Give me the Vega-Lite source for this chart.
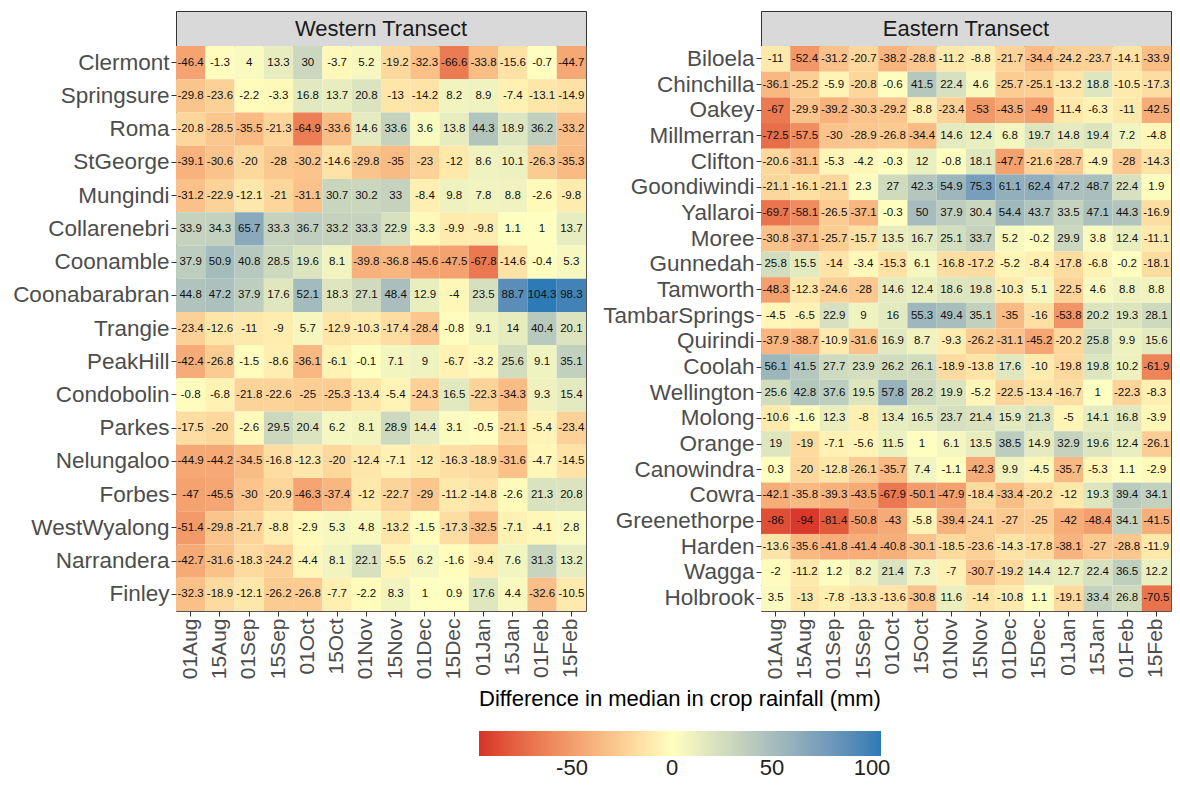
{
  "$schema": "https://vega.github.io/schema/vega-lite/v6.json",
  "background": "white",
  "padding": {"left": 12, "top": 10, "right": 5, "bottom": 0},
  "config": {
    "font": "Liberation Sans",
    "locale": {"number": {"decimal": ".", "thousands": ",", "grouping": [3], "currency": ["$", ""], "minus": "-"}},
    "view": {"stroke": "#555555", "strokeWidth": 1},
    "axis": {"labelFont": "Liberation Sans", "labelColor": "#4d4d4d", "tickColor": "#333333", "tickSize": 5, "domain": false, "grid": false, "title": null, "labelPadding": 2},
    "axisX": {"labelFontSize": 21, "labelAngle": 270},
    "axisY": {"labelFontSize": 22.5},
    "legend": {"gradientLength": 402, "gradientThickness": 25, "direction": "horizontal", "titleFontSize": 22, "titleFontWeight": "normal", "titleColor": "#000000", "titleFont": "Liberation Sans", "labelFont": "Liberation Sans", "labelFontSize": 22, "labelColor": "#222222", "titlePadding": 20, "labelOffset": 13, "titleLimit": 600}
  },
  "datasets": {
    "west": [
      {"s":"Clermont","d":"01Aug","v":-46.4},{"s":"Clermont","d":"15Aug","v":-1.3},{"s":"Clermont","d":"01Sep","v":4},{"s":"Clermont","d":"15Sep","v":13.3},{"s":"Clermont","d":"01Oct","v":30},{"s":"Clermont","d":"15Oct","v":-3.7},{"s":"Clermont","d":"01Nov","v":5.2},{"s":"Clermont","d":"15Nov","v":-19.2},{"s":"Clermont","d":"01Dec","v":-32.3},{"s":"Clermont","d":"15Dec","v":-66.6},{"s":"Clermont","d":"01Jan","v":-33.8},{"s":"Clermont","d":"15Jan","v":-15.6},{"s":"Clermont","d":"01Feb","v":-0.7},{"s":"Clermont","d":"15Feb","v":-44.7},
      {"s":"Springsure","d":"01Aug","v":-29.8},{"s":"Springsure","d":"15Aug","v":-23.6},{"s":"Springsure","d":"01Sep","v":-2.2},{"s":"Springsure","d":"15Sep","v":-3.3},{"s":"Springsure","d":"01Oct","v":16.8},{"s":"Springsure","d":"15Oct","v":13.7},{"s":"Springsure","d":"01Nov","v":20.8},{"s":"Springsure","d":"15Nov","v":-13},{"s":"Springsure","d":"01Dec","v":-14.2},{"s":"Springsure","d":"15Dec","v":8.2},{"s":"Springsure","d":"01Jan","v":8.9},{"s":"Springsure","d":"15Jan","v":-7.4},{"s":"Springsure","d":"01Feb","v":-13.1},{"s":"Springsure","d":"15Feb","v":-14.9},
      {"s":"Roma","d":"01Aug","v":-20.8},{"s":"Roma","d":"15Aug","v":-28.5},{"s":"Roma","d":"01Sep","v":-35.5},{"s":"Roma","d":"15Sep","v":-21.3},{"s":"Roma","d":"01Oct","v":-64.9},{"s":"Roma","d":"15Oct","v":-33.6},{"s":"Roma","d":"01Nov","v":14.6},{"s":"Roma","d":"15Nov","v":33.6},{"s":"Roma","d":"01Dec","v":3.6},{"s":"Roma","d":"15Dec","v":13.8},{"s":"Roma","d":"01Jan","v":44.3},{"s":"Roma","d":"15Jan","v":18.9},{"s":"Roma","d":"01Feb","v":36.2},{"s":"Roma","d":"15Feb","v":-33.2},
      {"s":"StGeorge","d":"01Aug","v":-39.1},{"s":"StGeorge","d":"15Aug","v":-30.6},{"s":"StGeorge","d":"01Sep","v":-20},{"s":"StGeorge","d":"15Sep","v":-28},{"s":"StGeorge","d":"01Oct","v":-30.2},{"s":"StGeorge","d":"15Oct","v":-14.6},{"s":"StGeorge","d":"01Nov","v":-29.8},{"s":"StGeorge","d":"15Nov","v":-35},{"s":"StGeorge","d":"01Dec","v":-23},{"s":"StGeorge","d":"15Dec","v":-12},{"s":"StGeorge","d":"01Jan","v":8.6},{"s":"StGeorge","d":"15Jan","v":10.1},{"s":"StGeorge","d":"01Feb","v":-26.3},{"s":"StGeorge","d":"15Feb","v":-35.3},
      {"s":"Mungindi","d":"01Aug","v":-31.2},{"s":"Mungindi","d":"15Aug","v":-22.9},{"s":"Mungindi","d":"01Sep","v":-12.1},{"s":"Mungindi","d":"15Sep","v":-21},{"s":"Mungindi","d":"01Oct","v":-31.1},{"s":"Mungindi","d":"15Oct","v":30.7},{"s":"Mungindi","d":"01Nov","v":30.2},{"s":"Mungindi","d":"15Nov","v":33},{"s":"Mungindi","d":"01Dec","v":-8.4},{"s":"Mungindi","d":"15Dec","v":9.8},{"s":"Mungindi","d":"01Jan","v":7.8},{"s":"Mungindi","d":"15Jan","v":8.8},{"s":"Mungindi","d":"01Feb","v":-2.6},{"s":"Mungindi","d":"15Feb","v":-9.8},
      {"s":"Collarenebri","d":"01Aug","v":33.9},{"s":"Collarenebri","d":"15Aug","v":34.3},{"s":"Collarenebri","d":"01Sep","v":65.7},{"s":"Collarenebri","d":"15Sep","v":33.3},{"s":"Collarenebri","d":"01Oct","v":36.7},{"s":"Collarenebri","d":"15Oct","v":33.2},{"s":"Collarenebri","d":"01Nov","v":33.3},{"s":"Collarenebri","d":"15Nov","v":22.9},{"s":"Collarenebri","d":"01Dec","v":-3.3},{"s":"Collarenebri","d":"15Dec","v":-9.9},{"s":"Collarenebri","d":"01Jan","v":-9.8},{"s":"Collarenebri","d":"15Jan","v":1.1},{"s":"Collarenebri","d":"01Feb","v":1},{"s":"Collarenebri","d":"15Feb","v":13.7},
      {"s":"Coonamble","d":"01Aug","v":37.9},{"s":"Coonamble","d":"15Aug","v":50.9},{"s":"Coonamble","d":"01Sep","v":40.8},{"s":"Coonamble","d":"15Sep","v":28.5},{"s":"Coonamble","d":"01Oct","v":19.6},{"s":"Coonamble","d":"15Oct","v":8.1},{"s":"Coonamble","d":"01Nov","v":-39.8},{"s":"Coonamble","d":"15Nov","v":-36.8},{"s":"Coonamble","d":"01Dec","v":-45.6},{"s":"Coonamble","d":"15Dec","v":-47.5},{"s":"Coonamble","d":"01Jan","v":-67.8},{"s":"Coonamble","d":"15Jan","v":-14.6},{"s":"Coonamble","d":"01Feb","v":-0.4},{"s":"Coonamble","d":"15Feb","v":5.3},
      {"s":"Coonabarabran","d":"01Aug","v":44.8},{"s":"Coonabarabran","d":"15Aug","v":47.2},{"s":"Coonabarabran","d":"01Sep","v":37.9},{"s":"Coonabarabran","d":"15Sep","v":17.6},{"s":"Coonabarabran","d":"01Oct","v":52.1},{"s":"Coonabarabran","d":"15Oct","v":18.3},{"s":"Coonabarabran","d":"01Nov","v":27.1},{"s":"Coonabarabran","d":"15Nov","v":48.4},{"s":"Coonabarabran","d":"01Dec","v":12.9},{"s":"Coonabarabran","d":"15Dec","v":-4},{"s":"Coonabarabran","d":"01Jan","v":23.5},{"s":"Coonabarabran","d":"15Jan","v":88.7},{"s":"Coonabarabran","d":"01Feb","v":104.3},{"s":"Coonabarabran","d":"15Feb","v":98.3},
      {"s":"Trangie","d":"01Aug","v":-23.4},{"s":"Trangie","d":"15Aug","v":-12.6},{"s":"Trangie","d":"01Sep","v":-11},{"s":"Trangie","d":"15Sep","v":-9},{"s":"Trangie","d":"01Oct","v":5.7},{"s":"Trangie","d":"15Oct","v":-12.9},{"s":"Trangie","d":"01Nov","v":-10.3},{"s":"Trangie","d":"15Nov","v":-17.4},{"s":"Trangie","d":"01Dec","v":-28.4},{"s":"Trangie","d":"15Dec","v":-0.8},{"s":"Trangie","d":"01Jan","v":9.1},{"s":"Trangie","d":"15Jan","v":14},{"s":"Trangie","d":"01Feb","v":40.4},{"s":"Trangie","d":"15Feb","v":20.1},
      {"s":"PeakHill","d":"01Aug","v":-42.4},{"s":"PeakHill","d":"15Aug","v":-26.8},{"s":"PeakHill","d":"01Sep","v":-1.5},{"s":"PeakHill","d":"15Sep","v":-8.6},{"s":"PeakHill","d":"01Oct","v":-36.1},{"s":"PeakHill","d":"15Oct","v":-6.1},{"s":"PeakHill","d":"01Nov","v":-0.1},{"s":"PeakHill","d":"15Nov","v":7.1},{"s":"PeakHill","d":"01Dec","v":9},{"s":"PeakHill","d":"15Dec","v":-6.7},{"s":"PeakHill","d":"01Jan","v":-3.2},{"s":"PeakHill","d":"15Jan","v":25.6},{"s":"PeakHill","d":"01Feb","v":9.1},{"s":"PeakHill","d":"15Feb","v":35.1},
      {"s":"Condobolin","d":"01Aug","v":-0.8},{"s":"Condobolin","d":"15Aug","v":-6.8},{"s":"Condobolin","d":"01Sep","v":-21.8},{"s":"Condobolin","d":"15Sep","v":-22.6},{"s":"Condobolin","d":"01Oct","v":-25},{"s":"Condobolin","d":"15Oct","v":-25.3},{"s":"Condobolin","d":"01Nov","v":-13.4},{"s":"Condobolin","d":"15Nov","v":-5.4},{"s":"Condobolin","d":"01Dec","v":-24.3},{"s":"Condobolin","d":"15Dec","v":16.5},{"s":"Condobolin","d":"01Jan","v":-22.3},{"s":"Condobolin","d":"15Jan","v":-34.3},{"s":"Condobolin","d":"01Feb","v":9.3},{"s":"Condobolin","d":"15Feb","v":15.4},
      {"s":"Parkes","d":"01Aug","v":-17.5},{"s":"Parkes","d":"15Aug","v":-20},{"s":"Parkes","d":"01Sep","v":-2.6},{"s":"Parkes","d":"15Sep","v":29.5},{"s":"Parkes","d":"01Oct","v":20.4},{"s":"Parkes","d":"15Oct","v":6.2},{"s":"Parkes","d":"01Nov","v":8.1},{"s":"Parkes","d":"15Nov","v":28.9},{"s":"Parkes","d":"01Dec","v":14.4},{"s":"Parkes","d":"15Dec","v":3.1},{"s":"Parkes","d":"01Jan","v":-0.5},{"s":"Parkes","d":"15Jan","v":-21.1},{"s":"Parkes","d":"01Feb","v":-5.4},{"s":"Parkes","d":"15Feb","v":-23.4},
      {"s":"Nelungaloo","d":"01Aug","v":-44.9},{"s":"Nelungaloo","d":"15Aug","v":-44.2},{"s":"Nelungaloo","d":"01Sep","v":-34.5},{"s":"Nelungaloo","d":"15Sep","v":-16.8},{"s":"Nelungaloo","d":"01Oct","v":-12.3},{"s":"Nelungaloo","d":"15Oct","v":-20},{"s":"Nelungaloo","d":"01Nov","v":-12.4},{"s":"Nelungaloo","d":"15Nov","v":-7.1},{"s":"Nelungaloo","d":"01Dec","v":-12},{"s":"Nelungaloo","d":"15Dec","v":-16.3},{"s":"Nelungaloo","d":"01Jan","v":-18.9},{"s":"Nelungaloo","d":"15Jan","v":-31.6},{"s":"Nelungaloo","d":"01Feb","v":-4.7},{"s":"Nelungaloo","d":"15Feb","v":-14.5},
      {"s":"Forbes","d":"01Aug","v":-47},{"s":"Forbes","d":"15Aug","v":-45.5},{"s":"Forbes","d":"01Sep","v":-30},{"s":"Forbes","d":"15Sep","v":-20.9},{"s":"Forbes","d":"01Oct","v":-46.3},{"s":"Forbes","d":"15Oct","v":-37.4},{"s":"Forbes","d":"01Nov","v":-12},{"s":"Forbes","d":"15Nov","v":-22.7},{"s":"Forbes","d":"01Dec","v":-29},{"s":"Forbes","d":"15Dec","v":-11.2},{"s":"Forbes","d":"01Jan","v":-14.8},{"s":"Forbes","d":"15Jan","v":-2.6},{"s":"Forbes","d":"01Feb","v":21.3},{"s":"Forbes","d":"15Feb","v":20.8},
      {"s":"WestWyalong","d":"01Aug","v":-51.4},{"s":"WestWyalong","d":"15Aug","v":-29.8},{"s":"WestWyalong","d":"01Sep","v":-21.7},{"s":"WestWyalong","d":"15Sep","v":-8.8},{"s":"WestWyalong","d":"01Oct","v":-2.9},{"s":"WestWyalong","d":"15Oct","v":5.3},{"s":"WestWyalong","d":"01Nov","v":4.8},{"s":"WestWyalong","d":"15Nov","v":-13.2},{"s":"WestWyalong","d":"01Dec","v":-1.5},{"s":"WestWyalong","d":"15Dec","v":-17.3},{"s":"WestWyalong","d":"01Jan","v":-32.5},{"s":"WestWyalong","d":"15Jan","v":-7.1},{"s":"WestWyalong","d":"01Feb","v":-4.1},{"s":"WestWyalong","d":"15Feb","v":2.8},
      {"s":"Narrandera","d":"01Aug","v":-42.7},{"s":"Narrandera","d":"15Aug","v":-31.6},{"s":"Narrandera","d":"01Sep","v":-18.3},{"s":"Narrandera","d":"15Sep","v":-24.2},{"s":"Narrandera","d":"01Oct","v":-4.4},{"s":"Narrandera","d":"15Oct","v":8.1},{"s":"Narrandera","d":"01Nov","v":22.1},{"s":"Narrandera","d":"15Nov","v":-5.5},{"s":"Narrandera","d":"01Dec","v":6.2},{"s":"Narrandera","d":"15Dec","v":-1.6},{"s":"Narrandera","d":"01Jan","v":-9.4},{"s":"Narrandera","d":"15Jan","v":7.6},{"s":"Narrandera","d":"01Feb","v":31.3},{"s":"Narrandera","d":"15Feb","v":13.2},
      {"s":"Finley","d":"01Aug","v":-32.3},{"s":"Finley","d":"15Aug","v":-18.9},{"s":"Finley","d":"01Sep","v":-12.1},{"s":"Finley","d":"15Sep","v":-26.2},{"s":"Finley","d":"01Oct","v":-26.8},{"s":"Finley","d":"15Oct","v":-7.7},{"s":"Finley","d":"01Nov","v":-2.2},{"s":"Finley","d":"15Nov","v":8.3},{"s":"Finley","d":"01Dec","v":1},{"s":"Finley","d":"15Dec","v":0.9},{"s":"Finley","d":"01Jan","v":17.6},{"s":"Finley","d":"15Jan","v":4.4},{"s":"Finley","d":"01Feb","v":-32.6},{"s":"Finley","d":"15Feb","v":-10.5}
    ],
    "east": [
      {"s":"Biloela","d":"01Aug","v":-11},{"s":"Biloela","d":"15Aug","v":-52.4},{"s":"Biloela","d":"01Sep","v":-31.2},{"s":"Biloela","d":"15Sep","v":-20.7},{"s":"Biloela","d":"01Oct","v":-38.2},{"s":"Biloela","d":"15Oct","v":-28.8},{"s":"Biloela","d":"01Nov","v":-11.2},{"s":"Biloela","d":"15Nov","v":-8.8},{"s":"Biloela","d":"01Dec","v":-21.7},{"s":"Biloela","d":"15Dec","v":-34.4},{"s":"Biloela","d":"01Jan","v":-24.2},{"s":"Biloela","d":"15Jan","v":-23.7},{"s":"Biloela","d":"01Feb","v":-14.1},{"s":"Biloela","d":"15Feb","v":-33.9},
      {"s":"Chinchilla","d":"01Aug","v":-36.1},{"s":"Chinchilla","d":"15Aug","v":-25.2},{"s":"Chinchilla","d":"01Sep","v":-5.9},{"s":"Chinchilla","d":"15Sep","v":-20.8},{"s":"Chinchilla","d":"01Oct","v":-0.6},{"s":"Chinchilla","d":"15Oct","v":41.5},{"s":"Chinchilla","d":"01Nov","v":22.4},{"s":"Chinchilla","d":"15Nov","v":4.6},{"s":"Chinchilla","d":"01Dec","v":-25.7},{"s":"Chinchilla","d":"15Dec","v":-25.1},{"s":"Chinchilla","d":"01Jan","v":-13.2},{"s":"Chinchilla","d":"15Jan","v":18.8},{"s":"Chinchilla","d":"01Feb","v":-10.5},{"s":"Chinchilla","d":"15Feb","v":-17.3},
      {"s":"Oakey","d":"01Aug","v":-67},{"s":"Oakey","d":"15Aug","v":-29.9},{"s":"Oakey","d":"01Sep","v":-39.2},{"s":"Oakey","d":"15Sep","v":-30.3},{"s":"Oakey","d":"01Oct","v":-29.2},{"s":"Oakey","d":"15Oct","v":-8.8},{"s":"Oakey","d":"01Nov","v":-23.4},{"s":"Oakey","d":"15Nov","v":-53},{"s":"Oakey","d":"01Dec","v":-43.5},{"s":"Oakey","d":"15Dec","v":-49},{"s":"Oakey","d":"01Jan","v":-11.4},{"s":"Oakey","d":"15Jan","v":-6.3},{"s":"Oakey","d":"01Feb","v":-11},{"s":"Oakey","d":"15Feb","v":-42.5},
      {"s":"Millmerran","d":"01Aug","v":-72.5},{"s":"Millmerran","d":"15Aug","v":-57.5},{"s":"Millmerran","d":"01Sep","v":-30},{"s":"Millmerran","d":"15Sep","v":-28.9},{"s":"Millmerran","d":"01Oct","v":-26.8},{"s":"Millmerran","d":"15Oct","v":-34.4},{"s":"Millmerran","d":"01Nov","v":14.6},{"s":"Millmerran","d":"15Nov","v":12.4},{"s":"Millmerran","d":"01Dec","v":6.8},{"s":"Millmerran","d":"15Dec","v":19.7},{"s":"Millmerran","d":"01Jan","v":14.8},{"s":"Millmerran","d":"15Jan","v":19.4},{"s":"Millmerran","d":"01Feb","v":7.2},{"s":"Millmerran","d":"15Feb","v":-4.8},
      {"s":"Clifton","d":"01Aug","v":-20.6},{"s":"Clifton","d":"15Aug","v":-31.1},{"s":"Clifton","d":"01Sep","v":-5.3},{"s":"Clifton","d":"15Sep","v":-4.2},{"s":"Clifton","d":"01Oct","v":-0.3},{"s":"Clifton","d":"15Oct","v":12},{"s":"Clifton","d":"01Nov","v":-0.8},{"s":"Clifton","d":"15Nov","v":18.1},{"s":"Clifton","d":"01Dec","v":-47.7},{"s":"Clifton","d":"15Dec","v":-21.6},{"s":"Clifton","d":"01Jan","v":-28.7},{"s":"Clifton","d":"15Jan","v":-4.9},{"s":"Clifton","d":"01Feb","v":-28},{"s":"Clifton","d":"15Feb","v":-14.3},
      {"s":"Goondiwindi","d":"01Aug","v":-21.1},{"s":"Goondiwindi","d":"15Aug","v":-16.1},{"s":"Goondiwindi","d":"01Sep","v":-21.1},{"s":"Goondiwindi","d":"15Sep","v":2.3},{"s":"Goondiwindi","d":"01Oct","v":27},{"s":"Goondiwindi","d":"15Oct","v":42.3},{"s":"Goondiwindi","d":"01Nov","v":54.9},{"s":"Goondiwindi","d":"15Nov","v":75.3},{"s":"Goondiwindi","d":"01Dec","v":61.1},{"s":"Goondiwindi","d":"15Dec","v":62.4},{"s":"Goondiwindi","d":"01Jan","v":47.2},{"s":"Goondiwindi","d":"15Jan","v":48.7},{"s":"Goondiwindi","d":"01Feb","v":22.4},{"s":"Goondiwindi","d":"15Feb","v":1.9},
      {"s":"Yallaroi","d":"01Aug","v":-69.7},{"s":"Yallaroi","d":"15Aug","v":-58.1},{"s":"Yallaroi","d":"01Sep","v":-26.5},{"s":"Yallaroi","d":"15Sep","v":-37.1},{"s":"Yallaroi","d":"01Oct","v":-0.3},{"s":"Yallaroi","d":"15Oct","v":50},{"s":"Yallaroi","d":"01Nov","v":37.9},{"s":"Yallaroi","d":"15Nov","v":30.4},{"s":"Yallaroi","d":"01Dec","v":54.4},{"s":"Yallaroi","d":"15Dec","v":43.7},{"s":"Yallaroi","d":"01Jan","v":33.5},{"s":"Yallaroi","d":"15Jan","v":47.1},{"s":"Yallaroi","d":"01Feb","v":44.3},{"s":"Yallaroi","d":"15Feb","v":-16.9},
      {"s":"Moree","d":"01Aug","v":-30.8},{"s":"Moree","d":"15Aug","v":-37.1},{"s":"Moree","d":"01Sep","v":-25.7},{"s":"Moree","d":"15Sep","v":-15.7},{"s":"Moree","d":"01Oct","v":13.5},{"s":"Moree","d":"15Oct","v":16.7},{"s":"Moree","d":"01Nov","v":25.1},{"s":"Moree","d":"15Nov","v":33.7},{"s":"Moree","d":"01Dec","v":5.2},{"s":"Moree","d":"15Dec","v":-0.2},{"s":"Moree","d":"01Jan","v":29.9},{"s":"Moree","d":"15Jan","v":3.8},{"s":"Moree","d":"01Feb","v":12.4},{"s":"Moree","d":"15Feb","v":-11.1},
      {"s":"Gunnedah","d":"01Aug","v":25.8},{"s":"Gunnedah","d":"15Aug","v":15.5},{"s":"Gunnedah","d":"01Sep","v":-14},{"s":"Gunnedah","d":"15Sep","v":-3.4},{"s":"Gunnedah","d":"01Oct","v":-15.3},{"s":"Gunnedah","d":"15Oct","v":6.1},{"s":"Gunnedah","d":"01Nov","v":-16.8},{"s":"Gunnedah","d":"15Nov","v":-17.2},{"s":"Gunnedah","d":"01Dec","v":-5.2},{"s":"Gunnedah","d":"15Dec","v":-8.4},{"s":"Gunnedah","d":"01Jan","v":-17.8},{"s":"Gunnedah","d":"15Jan","v":-6.8},{"s":"Gunnedah","d":"01Feb","v":-0.2},{"s":"Gunnedah","d":"15Feb","v":-18.1},
      {"s":"Tamworth","d":"01Aug","v":-48.3},{"s":"Tamworth","d":"15Aug","v":-12.3},{"s":"Tamworth","d":"01Sep","v":-24.6},{"s":"Tamworth","d":"15Sep","v":-28},{"s":"Tamworth","d":"01Oct","v":14.6},{"s":"Tamworth","d":"15Oct","v":12.4},{"s":"Tamworth","d":"01Nov","v":18.6},{"s":"Tamworth","d":"15Nov","v":19.8},{"s":"Tamworth","d":"01Dec","v":-10.3},{"s":"Tamworth","d":"15Dec","v":5.1},{"s":"Tamworth","d":"01Jan","v":-22.5},{"s":"Tamworth","d":"15Jan","v":4.6},{"s":"Tamworth","d":"01Feb","v":8.8},{"s":"Tamworth","d":"15Feb","v":8.8},
      {"s":"TambarSprings","d":"01Aug","v":-4.5},{"s":"TambarSprings","d":"15Aug","v":-6.5},{"s":"TambarSprings","d":"01Sep","v":22.9},{"s":"TambarSprings","d":"15Sep","v":9},{"s":"TambarSprings","d":"01Oct","v":16},{"s":"TambarSprings","d":"15Oct","v":55.3},{"s":"TambarSprings","d":"01Nov","v":49.4},{"s":"TambarSprings","d":"15Nov","v":35.1},{"s":"TambarSprings","d":"01Dec","v":-35},{"s":"TambarSprings","d":"15Dec","v":-16},{"s":"TambarSprings","d":"01Jan","v":-53.8},{"s":"TambarSprings","d":"15Jan","v":20.2},{"s":"TambarSprings","d":"01Feb","v":19.3},{"s":"TambarSprings","d":"15Feb","v":28.1},
      {"s":"Quirindi","d":"01Aug","v":-37.9},{"s":"Quirindi","d":"15Aug","v":-38.7},{"s":"Quirindi","d":"01Sep","v":-10.9},{"s":"Quirindi","d":"15Sep","v":-31.6},{"s":"Quirindi","d":"01Oct","v":16.9},{"s":"Quirindi","d":"15Oct","v":8.7},{"s":"Quirindi","d":"01Nov","v":-9.3},{"s":"Quirindi","d":"15Nov","v":-26.2},{"s":"Quirindi","d":"01Dec","v":-31.1},{"s":"Quirindi","d":"15Dec","v":-45.2},{"s":"Quirindi","d":"01Jan","v":-20.2},{"s":"Quirindi","d":"15Jan","v":25.8},{"s":"Quirindi","d":"01Feb","v":9.9},{"s":"Quirindi","d":"15Feb","v":15.6},
      {"s":"Coolah","d":"01Aug","v":56.1},{"s":"Coolah","d":"15Aug","v":41.5},{"s":"Coolah","d":"01Sep","v":27.7},{"s":"Coolah","d":"15Sep","v":23.9},{"s":"Coolah","d":"01Oct","v":26.2},{"s":"Coolah","d":"15Oct","v":26.1},{"s":"Coolah","d":"01Nov","v":-18.9},{"s":"Coolah","d":"15Nov","v":-13.8},{"s":"Coolah","d":"01Dec","v":17.6},{"s":"Coolah","d":"15Dec","v":-10},{"s":"Coolah","d":"01Jan","v":-19.8},{"s":"Coolah","d":"15Jan","v":19.8},{"s":"Coolah","d":"01Feb","v":10.2},{"s":"Coolah","d":"15Feb","v":-61.9},
      {"s":"Wellington","d":"01Aug","v":25.6},{"s":"Wellington","d":"15Aug","v":42.8},{"s":"Wellington","d":"01Sep","v":37.6},{"s":"Wellington","d":"15Sep","v":19.5},{"s":"Wellington","d":"01Oct","v":57.8},{"s":"Wellington","d":"15Oct","v":28.2},{"s":"Wellington","d":"01Nov","v":19.9},{"s":"Wellington","d":"15Nov","v":-5.2},{"s":"Wellington","d":"01Dec","v":-22.5},{"s":"Wellington","d":"15Dec","v":-13.4},{"s":"Wellington","d":"01Jan","v":-16.7},{"s":"Wellington","d":"15Jan","v":1},{"s":"Wellington","d":"01Feb","v":-22.3},{"s":"Wellington","d":"15Feb","v":-8.3},
      {"s":"Molong","d":"01Aug","v":-10.6},{"s":"Molong","d":"15Aug","v":-1.6},{"s":"Molong","d":"01Sep","v":12.3},{"s":"Molong","d":"15Sep","v":-8},{"s":"Molong","d":"01Oct","v":13.4},{"s":"Molong","d":"15Oct","v":16.5},{"s":"Molong","d":"01Nov","v":23.7},{"s":"Molong","d":"15Nov","v":21.4},{"s":"Molong","d":"01Dec","v":15.9},{"s":"Molong","d":"15Dec","v":21.3},{"s":"Molong","d":"01Jan","v":-5},{"s":"Molong","d":"15Jan","v":14.1},{"s":"Molong","d":"01Feb","v":16.8},{"s":"Molong","d":"15Feb","v":-3.9},
      {"s":"Orange","d":"01Aug","v":19},{"s":"Orange","d":"15Aug","v":-19},{"s":"Orange","d":"01Sep","v":-7.1},{"s":"Orange","d":"15Sep","v":-5.6},{"s":"Orange","d":"01Oct","v":11.5},{"s":"Orange","d":"15Oct","v":1},{"s":"Orange","d":"01Nov","v":6.1},{"s":"Orange","d":"15Nov","v":13.5},{"s":"Orange","d":"01Dec","v":38.5},{"s":"Orange","d":"15Dec","v":14.9},{"s":"Orange","d":"01Jan","v":32.9},{"s":"Orange","d":"15Jan","v":19.6},{"s":"Orange","d":"01Feb","v":12.4},{"s":"Orange","d":"15Feb","v":-26.1},
      {"s":"Canowindra","d":"01Aug","v":0.3},{"s":"Canowindra","d":"15Aug","v":-20},{"s":"Canowindra","d":"01Sep","v":-12.8},{"s":"Canowindra","d":"15Sep","v":-26.1},{"s":"Canowindra","d":"01Oct","v":-35.7},{"s":"Canowindra","d":"15Oct","v":7.4},{"s":"Canowindra","d":"01Nov","v":-1.1},{"s":"Canowindra","d":"15Nov","v":-42.3},{"s":"Canowindra","d":"01Dec","v":9.9},{"s":"Canowindra","d":"15Dec","v":-4.5},{"s":"Canowindra","d":"01Jan","v":-35.7},{"s":"Canowindra","d":"15Jan","v":-5.3},{"s":"Canowindra","d":"01Feb","v":1.1},{"s":"Canowindra","d":"15Feb","v":-2.9},
      {"s":"Cowra","d":"01Aug","v":-42.1},{"s":"Cowra","d":"15Aug","v":-35.8},{"s":"Cowra","d":"01Sep","v":-39.3},{"s":"Cowra","d":"15Sep","v":-43.5},{"s":"Cowra","d":"01Oct","v":-67.9},{"s":"Cowra","d":"15Oct","v":-50.1},{"s":"Cowra","d":"01Nov","v":-47.9},{"s":"Cowra","d":"15Nov","v":-18.4},{"s":"Cowra","d":"01Dec","v":-33.4},{"s":"Cowra","d":"15Dec","v":-20.2},{"s":"Cowra","d":"01Jan","v":-12},{"s":"Cowra","d":"15Jan","v":19.3},{"s":"Cowra","d":"01Feb","v":39.4},{"s":"Cowra","d":"15Feb","v":34.1},
      {"s":"Greenethorpe","d":"01Aug","v":-86},{"s":"Greenethorpe","d":"15Aug","v":-94},{"s":"Greenethorpe","d":"01Sep","v":-81.4},{"s":"Greenethorpe","d":"15Sep","v":-50.8},{"s":"Greenethorpe","d":"01Oct","v":-43},{"s":"Greenethorpe","d":"15Oct","v":-5.8},{"s":"Greenethorpe","d":"01Nov","v":-39.4},{"s":"Greenethorpe","d":"15Nov","v":-24.1},{"s":"Greenethorpe","d":"01Dec","v":-27},{"s":"Greenethorpe","d":"15Dec","v":-25},{"s":"Greenethorpe","d":"01Jan","v":-42},{"s":"Greenethorpe","d":"15Jan","v":-48.4},{"s":"Greenethorpe","d":"01Feb","v":34.1},{"s":"Greenethorpe","d":"15Feb","v":-41.5},
      {"s":"Harden","d":"01Aug","v":-13.6},{"s":"Harden","d":"15Aug","v":-35.6},{"s":"Harden","d":"01Sep","v":-41.8},{"s":"Harden","d":"15Sep","v":-41.4},{"s":"Harden","d":"01Oct","v":-40.8},{"s":"Harden","d":"15Oct","v":-30.1},{"s":"Harden","d":"01Nov","v":-18.5},{"s":"Harden","d":"15Nov","v":-23.6},{"s":"Harden","d":"01Dec","v":-14.3},{"s":"Harden","d":"15Dec","v":-17.8},{"s":"Harden","d":"01Jan","v":-38.1},{"s":"Harden","d":"15Jan","v":-27},{"s":"Harden","d":"01Feb","v":-28.8},{"s":"Harden","d":"15Feb","v":-11.9},
      {"s":"Wagga","d":"01Aug","v":-2},{"s":"Wagga","d":"15Aug","v":-11.2},{"s":"Wagga","d":"01Sep","v":1.2},{"s":"Wagga","d":"15Sep","v":8.2},{"s":"Wagga","d":"01Oct","v":21.4},{"s":"Wagga","d":"15Oct","v":7.3},{"s":"Wagga","d":"01Nov","v":-7},{"s":"Wagga","d":"15Nov","v":-30.7},{"s":"Wagga","d":"01Dec","v":-19.2},{"s":"Wagga","d":"15Dec","v":14.4},{"s":"Wagga","d":"01Jan","v":12.7},{"s":"Wagga","d":"15Jan","v":22.4},{"s":"Wagga","d":"01Feb","v":36.5},{"s":"Wagga","d":"15Feb","v":12.2},
      {"s":"Holbrook","d":"01Aug","v":3.5},{"s":"Holbrook","d":"15Aug","v":-13},{"s":"Holbrook","d":"01Sep","v":-7.8},{"s":"Holbrook","d":"15Sep","v":-13.3},{"s":"Holbrook","d":"01Oct","v":-13.6},{"s":"Holbrook","d":"15Oct","v":-30.8},{"s":"Holbrook","d":"01Nov","v":11.6},{"s":"Holbrook","d":"15Nov","v":-14},{"s":"Holbrook","d":"01Dec","v":-10.8},{"s":"Holbrook","d":"15Dec","v":1.1},{"s":"Holbrook","d":"01Jan","v":-19.1},{"s":"Holbrook","d":"15Jan","v":33.4},{"s":"Holbrook","d":"01Feb","v":26.8},{"s":"Holbrook","d":"15Feb","v":-70.5}
    ],
    "stripW": [{"label": "Western Transect"}],
    "stripE": [{"label": "Eastern Transect"}]
  },
  "columns": 2,
  "spacing": {"row": 0, "column": 175},
  "bounds": "flush",
  "resolve": {"scale": {"color": "shared"}},
  "concat": [
    {
      "width": 410, "height": 35,
      "view": {"fill": "#d9d9d9", "stroke": "#333333"},
      "data": {"name": "stripW"},
      "mark": {"type": "text", "fontSize": 22, "color": "#1a1a1a", "baseline": "middle", "align": "center"},
      "encoding": {"text": {"field": "label", "type": "nominal"}}
    },
    {
      "width": 410, "height": 35,
      "view": {"fill": "#d9d9d9", "stroke": "#333333"},
      "data": {"name": "stripE"},
      "mark": {"type": "text", "fontSize": 22, "color": "#1a1a1a", "baseline": "middle", "align": "center"},
      "encoding": {"text": {"field": "label", "type": "nominal"}}
    },
    {
      "width": 410, "height": 565,
      "data": {"name": "west"},
      "encoding": {
        "x": {"field": "d", "type": "nominal", "sort": ["01Aug","15Aug","01Sep","15Sep","01Oct","15Oct","01Nov","15Nov","01Dec","15Dec","01Jan","15Jan","01Feb","15Feb"]},
        "y": {"field": "s", "type": "nominal", "sort": ["Clermont","Springsure","Roma","StGeorge","Mungindi","Collarenebri","Coonamble","Coonabarabran","Trangie","PeakHill","Condobolin","Parkes","Nelungaloo","Forbes","WestWyalong","Narrandera","Finley"]}
      },
      "layer": [
        {
          "mark": {"type": "rect"},
          "encoding": {
            "color": {"field": "v", "type": "quantitative", "title": "Difference in median in crop rainfall (mm)",
              "scale": {"domain": [-96.5, 0, 104.5], "range": ["#d73027", "#ffffbf", "#2c7bb6"], "interpolate": "lab"},
              "legend": {"orient": "none", "legendX": 303, "legendY": 678, "direction": "horizontal", "values": [-50, 0, 50, 100], "titleAnchor": "middle"}}
          }
        },
        {
          "mark": {"type": "text", "fontSize": 11.5, "color": "#111111"},
          "encoding": {"text": {"field": "v", "type": "nominal"}}
        }
      ]
    },
    {
      "width": 410, "height": 565,
      "data": {"name": "east"},
      "encoding": {
        "x": {"field": "d", "type": "nominal", "sort": ["01Aug","15Aug","01Sep","15Sep","01Oct","15Oct","01Nov","15Nov","01Dec","15Dec","01Jan","15Jan","01Feb","15Feb"]},
        "y": {"field": "s", "type": "nominal", "sort": ["Biloela","Chinchilla","Oakey","Millmerran","Clifton","Goondiwindi","Yallaroi","Moree","Gunnedah","Tamworth","TambarSprings","Quirindi","Coolah","Wellington","Molong","Orange","Canowindra","Cowra","Greenethorpe","Harden","Wagga","Holbrook"]}
      },
      "layer": [
        {
          "mark": {"type": "rect"},
          "encoding": {
            "color": {"field": "v", "type": "quantitative", "title": "Difference in median in crop rainfall (mm)",
              "scale": {"domain": [-96.5, 0, 104.5], "range": ["#d73027", "#ffffbf", "#2c7bb6"], "interpolate": "lab"},
              "legend": {"orient": "none", "legendX": 303, "legendY": 678, "direction": "horizontal", "values": [-50, 0, 50, 100], "titleAnchor": "middle"}}
          }
        },
        {
          "mark": {"type": "text", "fontSize": 11.5, "color": "#111111"},
          "encoding": {"text": {"field": "v", "type": "nominal"}}
        }
      ]
    }
  ]
}
